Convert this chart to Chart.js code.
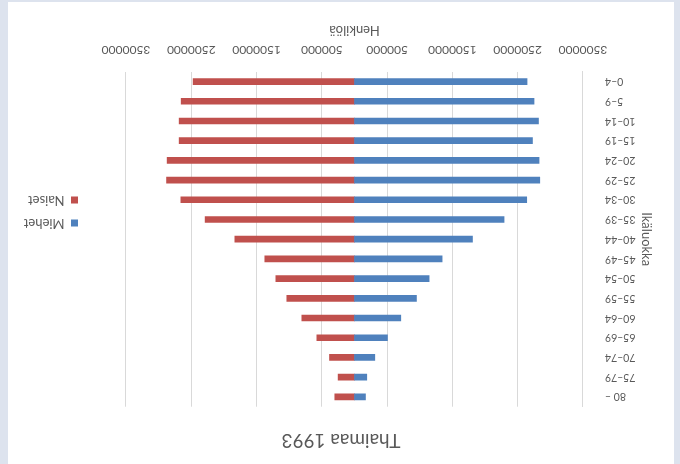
<!DOCTYPE html>
<html lang="fi">
<head>
    <meta charset="UTF-8">
    <title>Thaimaa 1993</title>
    <style>
        html, body { margin: 0; padding: 0; background: #ffffff; }
        /* the reference is shown upside down, so the whole frame is turned */
        #frame {
            position: relative;
            width: 680px;
            height: 464px;
            background: #dde3ee;
            transform: rotate(180deg);
        }
        #box {
            position: absolute;
            left: 6px;
            top: 0;
            width: 666px;
            height: 462px;
            background: #ffffff;
        }
    </style>
</head>
<body>
    <div id="frame">
        <div id="box">
            <canvas id="pyramid" width="666" height="462"></canvas>
        </div>
    </div>
    <script src="https://cdn.jsdelivr.net/npm/chart.js"></script>
    <script>
        var ageGroups = ['0–4', '5–9', '10–14', '15–19', '20–24', '25–29', '30–34', '35–39', '40–44',
                         '45–49', '50–54', '55–59', '60–64', '65–69', '70–74', '75–79', '80 –'];
        var miehet = [2643000, 2750000, 2818000, 2726000, 2827000, 2838000, 2638000, 2291000, 1807000,
                      1342000, 1143000, 949000, 709000, 505000, 311000, 188000, 168000];
        var naiset = [2472000, 2655000, 2686000, 2686000, 2870000, 2879000, 2660000, 2288000, 1833000,
                      1374000, 1205000, 1037000, 807000, 577000, 383000, 251000, 302000];
        var axisMin = -3500000;
        var axisMax = 3500000;
        var axisStep = 1000000;

        var textColor = '#595959';
        var fontName = 'Lato';

        // put the legend where Excel had it
        var legendPlace = {
            id: 'legendPlace',
            beforeLayout: function (chart) {
                var lg = chart.legend;
                if (lg && !lg._wide) {
                    var fit = lg.fit;
                    lg.fit = function () {
                        fit.call(this);
                        this.width = 118;
                    };
                    lg._wide = true;
                }
            },
            afterLayout: function (chart) {
                var lg = chart.legend;
                lg.left = 586;
                lg.top += 21.5;
                lg.bottom += 21.5;
            }
        };

        var ctx = document.getElementById('pyramid').getContext('2d');
        var pyramid = new Chart(ctx, {
            type: 'bar',
            data: {
                labels: ageGroups,
                datasets: [
                    {
                        label: 'Miehet',
                        data: miehet.map(function (v) { return -v; }),
                        backgroundColor: '#4f81bd',
                        barThickness: 6
                    },
                    {
                        label: 'Naiset',
                        data: naiset,
                        backgroundColor: '#c0504d',
                        barThickness: 6
                    }
                ]
            },
            options: {
                indexAxis: 'y',
                responsive: false,
                animation: false,
                layout: { padding: 0 },
                scales: {
                    x: {
                        stacked: true,
                        min: axisMin,
                        max: axisMax,
                        border: { display: false },
                        grid: { color: '#d9d9d9', drawTicks: false },
                        ticks: {
                            stepSize: axisStep,
                            padding: 15,
                            color: textColor,
                            font: { family: fontName, size: 12 },
                            maxRotation: 0,
                            callback: function (value) { return String(Math.abs(value)); }
                        },
                        title: {
                            display: true,
                            text: 'Henkilöä',
                            color: textColor,
                            font: { family: fontName, size: 13 },
                            padding: { top: 0, bottom: 20 }
                        },
                        afterFit: function (scale) { scale.height = 69.7; }
                    },
                    y: {
                        stacked: true,
                        reverse: true,
                        border: { display: true, color: '#d9d9d9' },
                        grid: { display: false },
                        ticks: {
                            padding: 14,
                            color: textColor,
                            font: { family: fontName, size: 10.5 }
                        },
                        title: {
                            display: true,
                            text: 'Ikäluokka',
                            color: textColor,
                            font: { family: fontName, size: 13 },
                            padding: { top: 20, bottom: 0 }
                        },
                        afterFit: function (scale) { scale.width = 91; }
                    }
                },
                plugins: {
                    title: {
                        display: true,
                        text: 'Thaimaa 1993',
                        color: textColor,
                        font: { family: fontName, size: 19, weight: 'normal' },
                        padding: { top: 12.6, bottom: 21.9 }
                    },
                    legend: {
                        position: 'right',
                        labels: {
                            boxWidth: 7,
                            boxHeight: 7,
                            padding: 10,
                            color: textColor,
                            font: { family: fontName, size: 13 }
                        }
                    },
                    tooltip: { enabled: false }
                }
            },
            plugins: [legendPlace]
        });
    </script>
</body>
</html>
